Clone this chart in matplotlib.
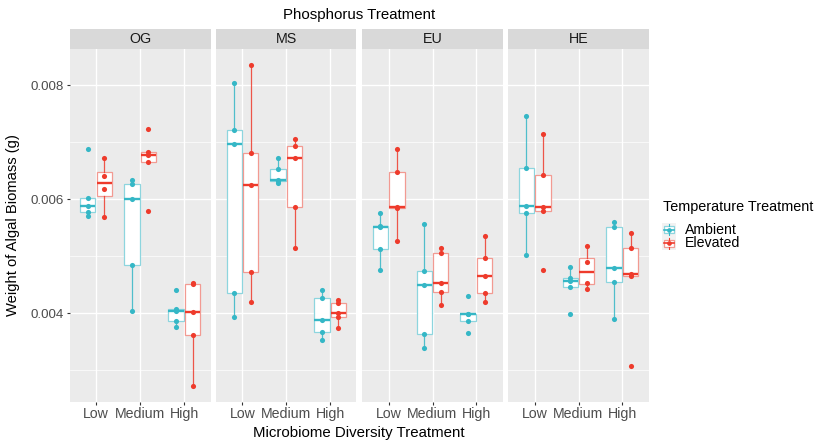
import matplotlib
matplotlib.use("Agg")
import matplotlib.pyplot as plt
import numpy as np
from matplotlib.patches import Rectangle
from matplotlib.lines import Line2D

plt.rcParams['font.family'] = ['Liberation Sans', 'DejaVu Sans']

# ---------------- data ----------------
panels = ["OG", "MS", "EU", "HE"]
diversity = ["Low", "Medium", "High"]
temperatures = ["Ambient", "Elevated"]
yticks = [0.004, 0.006, 0.008]
ytick_labels = ["0.004", "0.006", "0.008"]

og_ambient = [[0.006872, 0.006012, 0.005882, 0.005767, 0.005707],
              [0.006333, 0.006257, 0.005994, 0.004842, 0.004041],
              [0.004404, 0.004064, 0.004041, 0.003865, 0.003760]]
og_elevated = [[0.006719, 0.006404, 0.006170, 0.005679],
               [0.007228, 0.006830, 0.006772, 0.006643, 0.005795],
               [0.004521, 0.004509, 0.004023, 0.003614, 0.002725]]

ms_ambient = [[0.008029, 0.007205, 0.006965, 0.004345, 0.003936],
              [0.006725, 0.006532, 0.006339, 0.006310, 0.006281],
              [0.004404, 0.004257, 0.003877, 0.003661, 0.003526]]
ms_elevated = [[0.008351, 0.006801, 0.006240, 0.004725, 0.004199],
               [0.007053, 0.006930, 0.006725, 0.005865, 0.005146],
               [0.004228, 0.004170, 0.003995, 0.003936, 0.003732]]

eu_ambient = [[0.005749, 0.005526, 0.005515, 0.005123, 0.004754],
              [0.005556, 0.004737, 0.004491, 0.003626, 0.003392],
              [0.004304, 0.003982, 0.003977, 0.003865, 0.003655]]
eu_elevated = [[0.006871, 0.006474, 0.005865, 0.005836, 0.005258],
               [0.005146, 0.005058, 0.004521, 0.004363, 0.004140],
               [0.005357, 0.004965, 0.004649, 0.004345, 0.004187]]

he_ambient = [[0.007456, 0.006550, 0.005883, 0.005749, 0.005012],
              [0.004801, 0.004608, 0.004561, 0.004462, 0.003982],
              [0.005591, 0.005515, 0.004795, 0.004538, 0.003889]]
he_elevated = [[0.007135, 0.006421, 0.005854, 0.005795, 0.004754],
               [0.005181, 0.004900, 0.004532, 0.004421],
               [0.005409, 0.005146, 0.004679, 0.004644, 0.003070]]

panel_data = {
    "OG": (og_ambient, og_elevated),
    "MS": (ms_ambient, ms_elevated),
    "EU": (eu_ambient, eu_elevated),
    "HE": (he_ambient, he_elevated),
}

# ---------------- style ----------------
W, H = 817, 442
colors = {"Ambient": "#35B7C6", "Elevated": "#EE3B2C"}
light = {"Ambient": "#8DD5DE", "Elevated": "#F29A92"}
panel_bg = "#EBEBEB"
strip_bg = "#D9D9D9"

def px(x0, y0, x1, y1):
    return [x0 / W, 1 - y1 / H, (x1 - x0) / W, (y1 - y0) / H]

fig = plt.figure(figsize=(W / 100, H / 100), dpi=100)

panel_x = [(69.5, 210.8), (216.2, 356.4), (362.4, 502.6), (508.3, 648.7)]
ptop, pbot = 49.0, 401.7

all_vals = np.concatenate([np.concatenate([np.array(g) for g in grp])
                           for pair in panel_data.values() for grp in pair])
vmin, vmax = all_vals.min(), all_vals.max()
rng = vmax - vmin
ylim = (vmin - 0.05 * rng, vmax + 0.05 * rng)

offset = 0.1875
bw = 0.35

for i, name in enumerate(panels):
    x0, x1 = panel_x[i]
    ax = fig.add_axes(px(x0, ptop, x1, pbot))
    ax.set_facecolor(panel_bg)
    for s in ax.spines.values():
        s.set_visible(False)
    ax.set_xlim(-0.6, 2.6)
    ax.set_ylim(*ylim)
    ax.set_yticks(yticks)
    ax.set_yticks([0.003, 0.005, 0.007], minor=True)
    ax.set_xticks(range(len(diversity)))
    ax.set_xticklabels(diversity, fontsize=10.2, color="#4D4D4D")
    ax.grid(which="major", color="white", lw=1.0)
    ax.grid(which="minor", axis="y", color="white", lw=0.5)
    ax.set_axisbelow(True)
    ax.tick_params(axis="x", length=2, width=0.8, color="#333333", pad=1.8)
    ax.tick_params(axis="y", which="minor", length=0)
    if i == 0:
        ax.set_yticklabels(ytick_labels, fontsize=9.6, color="#4D4D4D")
        ax.tick_params(axis="y", which="major", length=2, width=0.8,
                       color="#333333", pad=2)
    else:
        ax.tick_params(axis="y", which="major", length=0, labelleft=False)

    amb, ele = panel_data[name]
    for t, (temp, groups) in enumerate(zip(temperatures, (amb, ele))):
        pos = [k + (-offset if t == 0 else offset) for k in range(len(groups))]
        c = colors[temp]
        lc = light[temp]
        ax.boxplot(groups, positions=pos, widths=bw, whis=1.5,
                   showfliers=False, patch_artist=True, manage_ticks=False,
                   boxprops=dict(facecolor="white", edgecolor=lc, lw=0.9),
                   whiskerprops=dict(color=c, lw=0.9, alpha=0.85),
                   capprops=dict(lw=0),
                   medianprops=dict(color=c, lw=1.7),
                   zorder=3)
        for p, g in zip(pos, groups):
            ax.plot([p] * len(g), g, "o", color=c, ms=3.7, mew=0, zorder=5)

    # strip
    sax = fig.add_axes(px(x0, 29.0, x1, ptop))
    sax.set_facecolor(strip_bg)
    sax.set_xticks([]); sax.set_yticks([])
    for s in sax.spines.values():
        s.set_visible(False)
    sax.text(0.5, 0.5, name, ha="center", va="center", fontsize=10.3,
             color="#1A1A1A", transform=sax.transAxes)

# titles
cx = (panel_x[0][0] + panel_x[-1][1]) / 2
fig.text(cx / W, 1 - 15.5 / H, "Phosphorus Treatment", ha="center",
         va="center", fontsize=10.8, color="black")
fig.text(cx / W, 1 - 432.5 / H, "Microbiome Diversity Treatment",
         ha="center", va="center", fontsize=10.8, color="black")
fig.text(13 / W, 1 - ((ptop + pbot) / 2) / H, "Weight of Algal Biomass (g)",
         ha="center", va="center", rotation=90, fontsize=10.6, color="black")

# legend (drawn manually)
fig.text(663 / W, 1 - 207.5 / H, "Temperature Treatment", ha="left",
         va="center", fontsize=10.4, color="black")
key_centers = [229.5, 243.3]
for temp, ky in zip(temperatures, key_centers):
    kax = fig.add_axes(px(662, ky - 6.9, 676, ky + 6.9))
    kax.set_facecolor("#F2F2F2")
    kax.set_xlim(0, 1); kax.set_ylim(0, 1)
    kax.set_xticks([]); kax.set_yticks([])
    for s in kax.spines.values():
        s.set_visible(False)
    c = colors[temp]
    kax.add_line(Line2D([0.5, 0.5], [0.1, 0.25], color=c, lw=0.8))
    kax.add_line(Line2D([0.5, 0.5], [0.75, 0.9], color=c, lw=0.8))
    kax.add_patch(Rectangle((0.125, 0.25), 0.75, 0.5, facecolor="white",
                            edgecolor=light[temp], lw=0.9))
    kax.add_line(Line2D([0.125, 0.875], [0.5, 0.5], color=c, lw=1.2))
    kax.plot([0.5], [0.5], "o", color=c, ms=3.4, mew=0)
    fig.text(685 / W, 1 - ky / H, temp, ha="left", va="center",
             fontsize=10.2, color="black")

fig.savefig("out.png", dpi=100)
